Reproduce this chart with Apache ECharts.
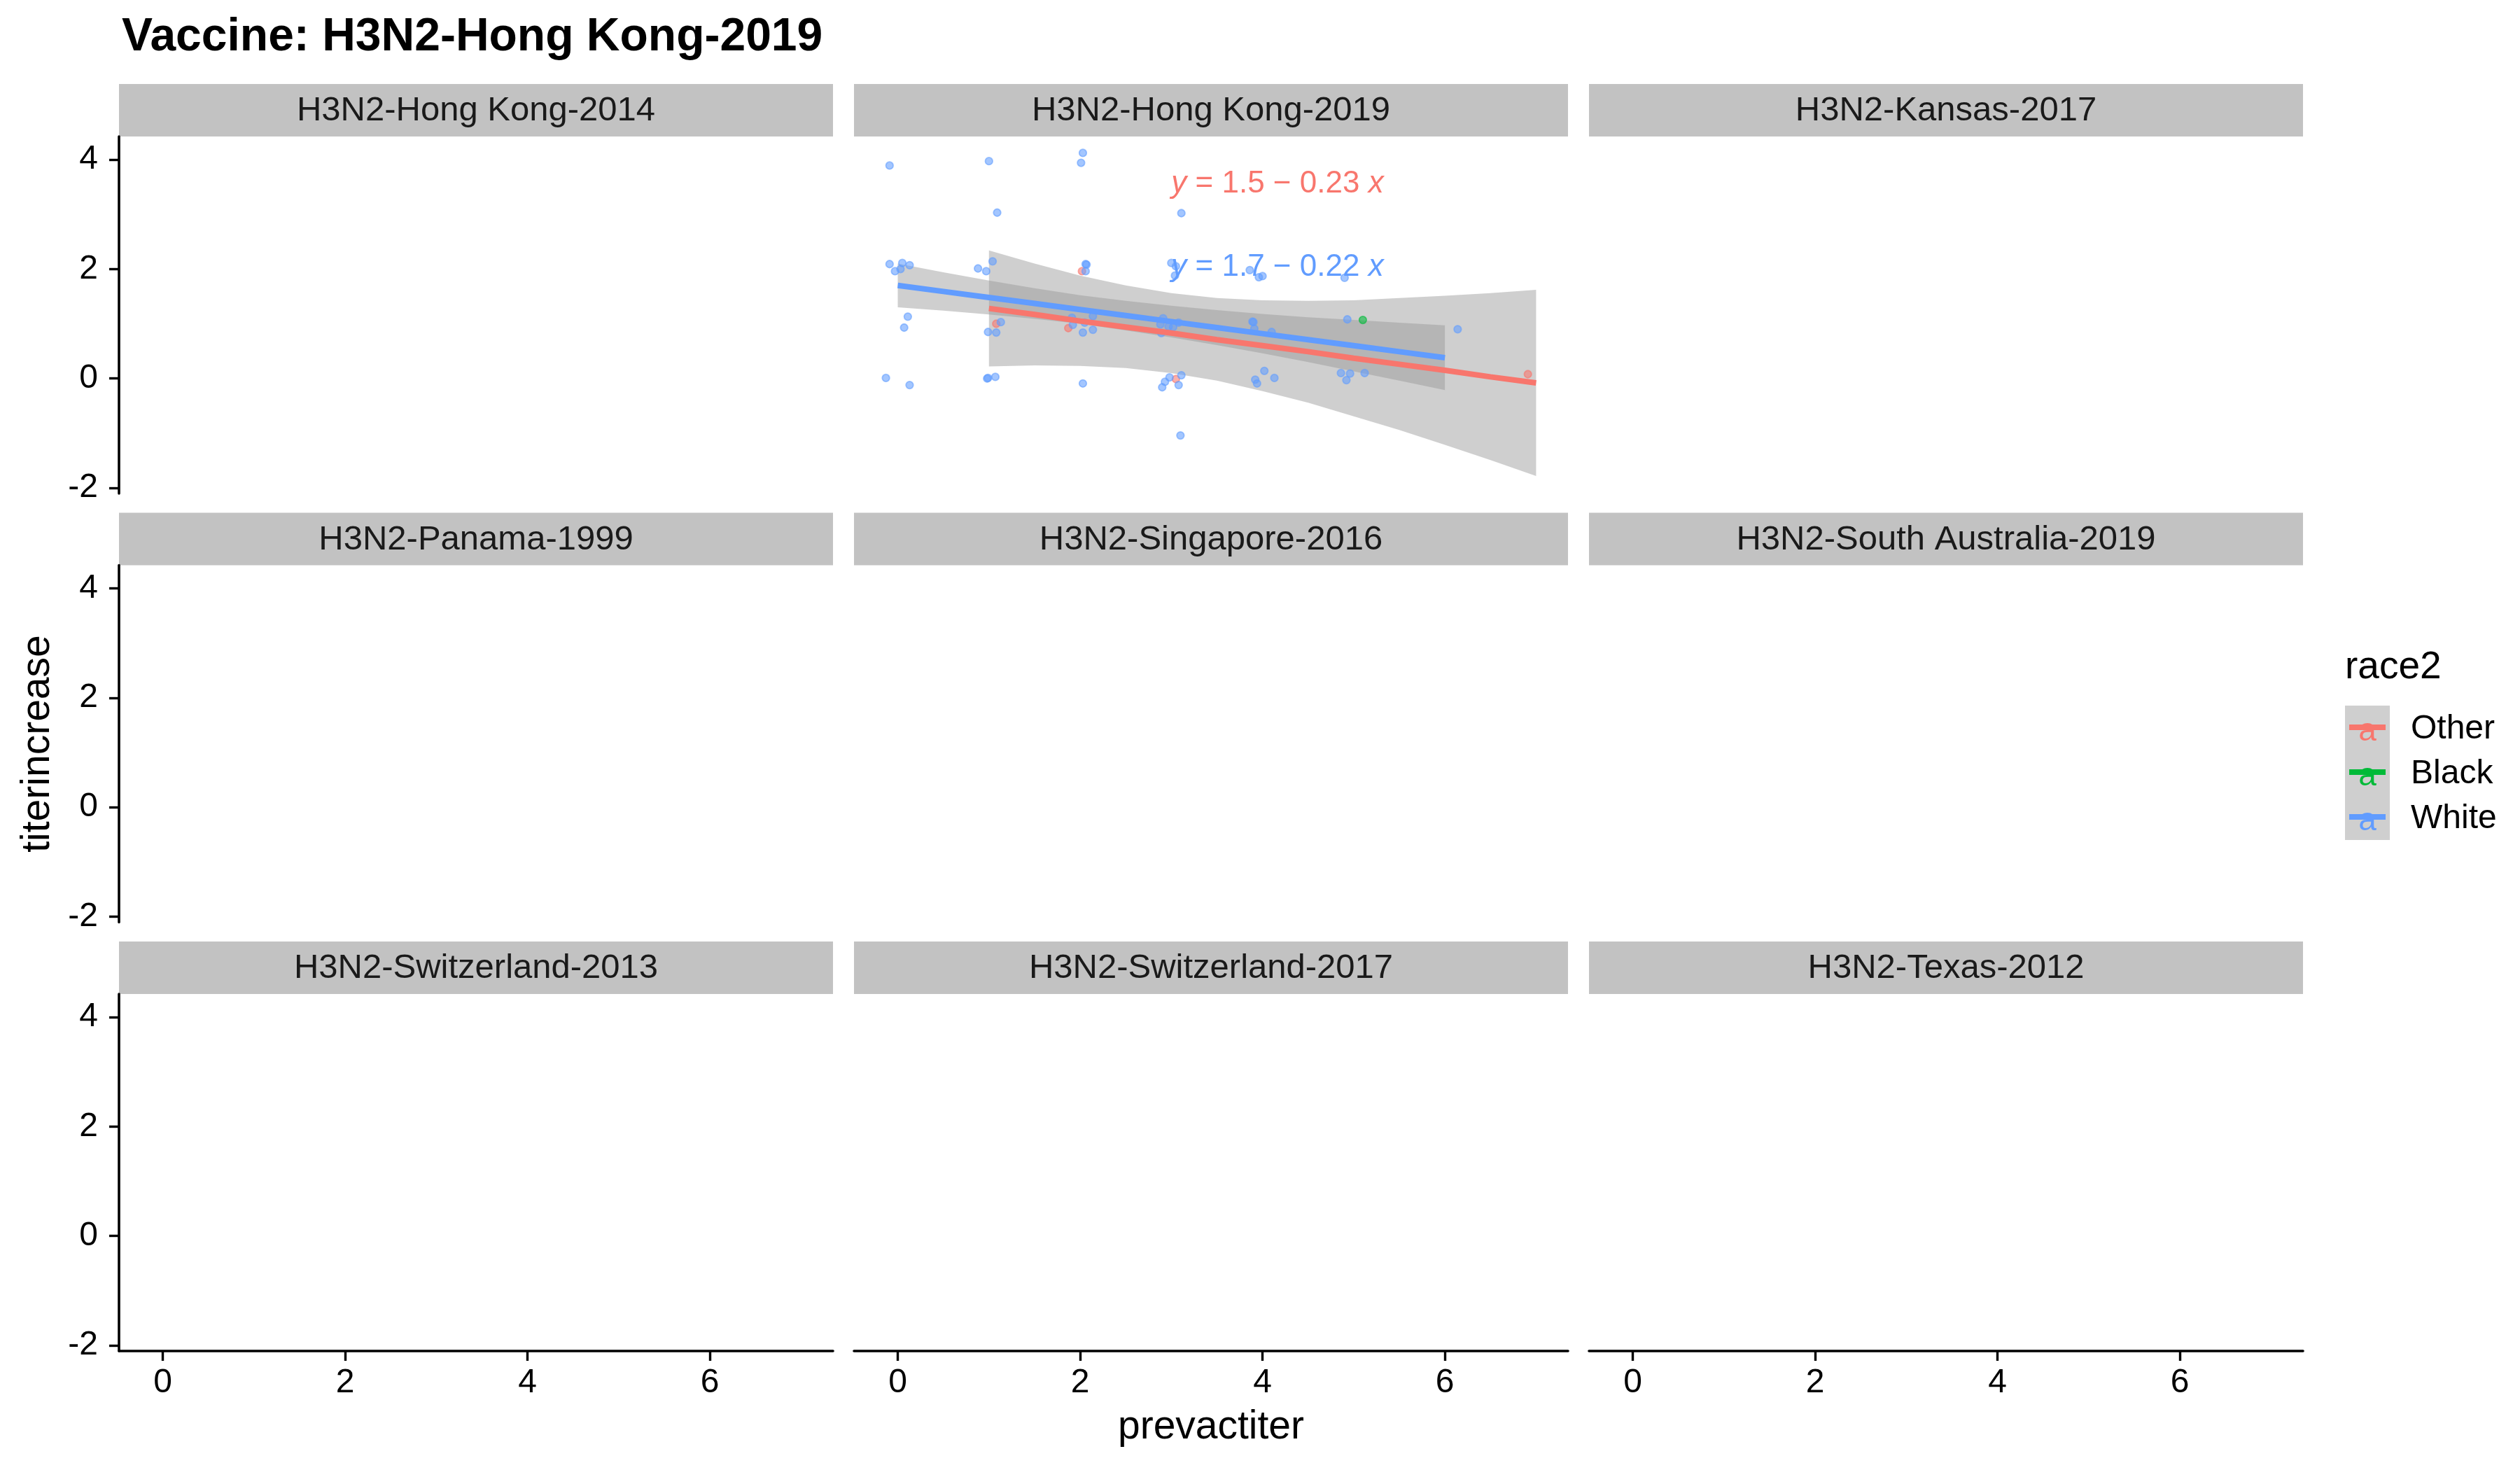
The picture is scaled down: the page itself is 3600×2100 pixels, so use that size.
<!DOCTYPE html>
<html>
<head>
<meta charset="utf-8">
<script src="https://cdn.jsdelivr.net/npm/echarts@6/dist/echarts.min.js"></script>
<style>
html,body{margin:0;padding:0;background:#fff;}
#chart{width:3600px;height:2100px;}
</style>
</head>
<body>
<div id="chart"></div>
<script>
// ---------------- data ----------------
const plotTitle = 'Vaccine: H3N2-Hong Kong-2019';
const facetNames = [
  'H3N2-Hong Kong-2014', 'H3N2-Hong Kong-2019', 'H3N2-Kansas-2017',
  'H3N2-Panama-1999', 'H3N2-Singapore-2016', 'H3N2-South Australia-2019',
  'H3N2-Switzerland-2013', 'H3N2-Switzerland-2017', 'H3N2-Texas-2012'
];
const dataFacet = 1; // only this facet holds data
const categories = ['Other', 'Black', 'White'];
const xTicks = [0, 2, 4, 6];
const yTicks = [-2, 0, 2, 4];
const xTitle = 'prevactiter';
const yTitle = 'titerincrease';
const legendTitle = 'race2';

// jittered points
const otherX = [2.02, 1.08, 1.87, 3.05, 6.91];
const otherY = [1.96, 1.00, 0.92, -0.01, 0.08];
const blackX = [5.10];
const blackY = [1.07];
const whiteX = [
  -0.09, 1.00, 2.03, 2.01, 1.09, 3.11,
  -0.09, 0.05, 0.13, -0.03, 0.03, 0.88, 0.97, 1.04, 2.07, 2.06, 2.06, 3.00, 3.05, 3.04,
  0.11, 0.07, 1.13, 0.99, 1.08, 1.91, 1.92, 2.05, 2.03, 2.14, 2.14, 2.91, 2.88, 2.97, 3.02, 3.08, 2.89,
  -0.13, 0.13, 0.99, 0.98, 1.07, 2.03, 2.98, 2.93, 2.90, 3.11, 3.08, 3.10,
  3.86, 3.96, 4.00, 4.90, 3.90, 3.89, 3.91, 4.10, 4.93, 6.14,
  4.02, 3.92, 3.94, 4.13, 4.86, 4.96, 4.92, 5.12
];
const whiteY = [
  3.89, 3.97, 4.12, 3.94, 3.03, 3.02,
  2.09, 2.11, 2.07, 1.96, 2.00, 2.01, 1.96, 2.14, 2.08, 2.09, 1.96, 2.11, 2.05, 1.88,
  1.13, 0.93, 1.03, 0.85, 0.84, 1.11, 0.98, 1.02, 0.84, 1.14, 0.89, 1.10, 0.99, 0.95, 0.94, 1.02, 0.83,
  0.01, -0.12, 0.01, 0.00, 0.03, -0.09, 0.02, -0.06, -0.16, 0.06, -0.12, -1.04,
  1.98, 1.85, 1.87, 1.84, 1.03, 1.04, 0.91, 0.85, 1.08, 0.90,
  0.14, -0.02, -0.09, 0.01, 0.10, 0.09, -0.03, 0.10
];

// regression fits and confidence bands
const otherBandX  = [1, 1.5, 2, 2.5, 3, 3.5, 4, 4.5, 5, 5.5, 6, 6.5, 7];
const otherFit    = [1.28, 1.17, 1.05, 0.94, 0.83, 0.71, 0.60, 0.49, 0.37, 0.26, 0.15, 0.03, -0.08];
const otherLower  = [0.22, 0.24, 0.23, 0.19, 0.10, -0.04, -0.23, -0.44, -0.69, -0.94, -1.21, -1.49, -1.78];
const otherUpper  = [2.34, 2.10, 1.88, 1.70, 1.56, 1.47, 1.43, 1.42, 1.43, 1.47, 1.51, 1.56, 1.62];
const whiteBandX  = [0, 0.5, 1, 1.5, 2, 2.5, 3, 3.5, 4, 4.5, 5, 5.5, 6];
const whiteFit    = [1.70, 1.59, 1.48, 1.37, 1.26, 1.15, 1.04, 0.93, 0.82, 0.71, 0.60, 0.49, 0.38];
const whiteLower  = [1.30, 1.24, 1.17, 1.09, 1.00, 0.88, 0.75, 0.61, 0.46, 0.30, 0.13, -0.04, -0.21];
const whiteUpper  = [2.10, 1.94, 1.79, 1.65, 1.52, 1.42, 1.33, 1.25, 1.18, 1.12, 1.07, 1.02, 0.97];

// regression equations
const eqIntercept = ['1.5', '1.7'];   // Other, White
const eqSlope     = ['0.23', '0.22'];
const eqAnchorX   = [3.0, 3.0];
const eqAnchorY   = [3.55, 2.03];

// ---------------- style / layout ----------------
const FONT = '"Liberation Sans", Arial, Helvetica, sans-serif';
const colors = {Other: '#F8766D', Black: '#00BA38', White: '#619CFF'};
const bandFill = 'rgba(153,153,153,0.47)';
const colX = [170, 1220, 2270];
const rowY = [195, 807.5, 1420];
const panelW = 1020, panelH = 510, stripH = 75;
const xMin = -0.48, xMax = 7.35, yMin = -2.1, yMax = 4.42;

const zip = (a, b) => a.map((v, i) => [v, b[i]]);

const grids = [], xAxes = [], yAxes = [], graphics = [];
facetNames.forEach((name, i) => {
  const r = Math.floor(i / 3), c = i % 3;
  grids.push({left: colX[c], top: rowY[r], width: panelW, height: panelH, containLabel: false});
  xAxes.push({
    gridIndex: i, type: 'value', min: xMin, max: xMax,
    splitLine: {show: false},
    axisLine: {show: r === 2, onZero: false, lineStyle: {color: '#000', width: 3.6}},
    axisTick: {show: r === 2, customValues: xTicks, length: 14, lineStyle: {color: '#000', width: 3.4}},
    axisLabel: {show: r === 2, customValues: xTicks, margin: 22, fontSize: 48, color: '#000', fontFamily: FONT}
  });
  yAxes.push({
    gridIndex: i, type: 'value', min: yMin, max: yMax,
    splitLine: {show: false},
    axisLine: {show: c === 0, onZero: false, lineStyle: {color: '#000', width: 3.6}},
    axisTick: {show: c === 0, customValues: yTicks, length: 14, lineStyle: {color: '#000', width: 3.4}},
    axisLabel: {show: c === 0, customValues: yTicks, margin: 30, fontSize: 48, color: '#000', fontFamily: FONT}
  });
  // strip
  graphics.push({type: 'rect', left: colX[c], top: rowY[r] - stripH, shape: {width: panelW, height: stripH},
    style: {fill: '#C2C2C2'}, silent: true});
  graphics.push({type: 'text', x: colX[c] + panelW / 2, y: rowY[r] - stripH / 2 + 1,
    style: {text: name, fontSize: 49, fontFamily: FONT, fill: '#1A1A1A', align: 'center', verticalAlign: 'middle'}, silent: true});
});

// titles
graphics.push({type: 'text', x: 174, y: 54, style: {text: plotTitle, fontSize: 66, fontWeight: 'bold',
  fontFamily: FONT, fill: '#000', align: 'left', verticalAlign: 'middle'}});
graphics.push({type: 'text', x: colX[1] + panelW / 2, y: 2039, style: {text: xTitle, fontSize: 57,
  fontFamily: FONT, fill: '#000', align: 'center', verticalAlign: 'middle'}});
graphics.push({type: 'text', x: 54, y: (rowY[0] + rowY[2] + panelH) / 2, rotation: Math.PI / 2,
  style: {text: yTitle, fontSize: 57, fontFamily: FONT, fill: '#000', align: 'center', verticalAlign: 'middle'}});

// legend
const legX = 3350, legY = 1008, keyW = 64, keyH = 64;
graphics.push({type: 'text', x: 3350, y: 954, style: {text: legendTitle, fontSize: 55, fontFamily: FONT,
  fill: '#000', align: 'left', verticalAlign: 'middle'}});
categories.forEach((cat, k) => {
  const cy = legY + keyH * k + keyH / 2;
  graphics.push({type: 'rect', left: legX, top: legY + keyH * k, shape: {width: keyW, height: keyH}, style: {fill: '#CFCFCF'}});
  graphics.push({type: 'text', x: legX + keyW / 2, y: cy + 5, style: {text: 'a', fontSize: 46, fontFamily: FONT,
    fill: colors[cat], align: 'center', verticalAlign: 'middle'}});
  graphics.push({type: 'line', shape: {x1: legX + 6, y1: cy - 1, x2: legX + keyW - 6, y2: cy - 1},
    style: {stroke: colors[cat], lineWidth: 8}});
  graphics.push({type: 'text', x: 3444, y: cy + 2, style: {text: cat, fontSize: 48, fontFamily: FONT,
    fill: '#000', align: 'left', verticalAlign: 'middle'}});
});

// ---------------- series ----------------
const gi = dataFacet;
function scatter(name, xs, ys) {
  return {type: 'scatter', name, xAxisIndex: gi, yAxisIndex: gi, data: zip(xs, ys), symbolSize: 10.5,
    itemStyle: {color: colors[name], borderColor: colors[name], borderWidth: 1.8, opacity: 0.58}, silent: true};
}
function band(xs, lo, hi) {
  return {type: 'custom', xAxisIndex: gi, yAxisIndex: gi, data: [[xs[0], lo[0]]], silent: true,
    renderItem: (params, api) => {
      const pts = [];
      for (let i = 0; i < xs.length; i++) pts.push(api.coord([xs[i], hi[i]]));
      for (let i = xs.length - 1; i >= 0; i--) pts.push(api.coord([xs[i], lo[i]]));
      return {type: 'polygon', shape: {points: pts}, style: {fill: bandFill}};
    }};
}
function fitLine(name, xs, ys) {
  return {type: 'line', name, xAxisIndex: gi, yAxisIndex: gi, data: zip(xs, ys), showSymbol: false, symbol: 'none',
    lineStyle: {color: colors[name], width: 8, cap: 'butt'}, silent: true};
}
function eqLabel(name, k) {
  const col = colors[name];
  return {type: 'custom', xAxisIndex: gi, yAxisIndex: gi, data: [[eqAnchorX[k], eqAnchorY[k]]], silent: true,
    renderItem: (params, api) => {
      const p = api.coord([api.value(0), api.value(1)]);
      return {type: 'text', x: p[0], y: p[1], style: {
        text: '{i|y}{n| = ' + eqIntercept[k] + ' \u2212 ' + eqSlope[k] + ' }{i|x}',
        align: 'left', verticalAlign: 'middle',
        rich: {i: {fontStyle: 'italic', fontSize: 44, fontFamily: FONT, fill: col},
               n: {fontSize: 44, fontFamily: FONT, fill: col}}}};
    }};
}

const series = [
  scatter('Other', otherX, otherY),
  scatter('Black', blackX, blackY),
  scatter('White', whiteX, whiteY),
  band(otherBandX, otherLower, otherUpper),
  fitLine('Other', otherBandX, otherFit),
  band(whiteBandX, whiteLower, whiteUpper),
  fitLine('White', whiteBandX, whiteFit),
  eqLabel('Other', 0),
  eqLabel('White', 1)
];

const chart = echarts.init(document.getElementById('chart'), null, {renderer: 'canvas'});
chart.setOption({
  backgroundColor: '#fff',
  animation: false,
  grid: grids,
  xAxis: xAxes,
  yAxis: yAxes,
  series,
  graphic: graphics
});
</script>
</body>
</html>
